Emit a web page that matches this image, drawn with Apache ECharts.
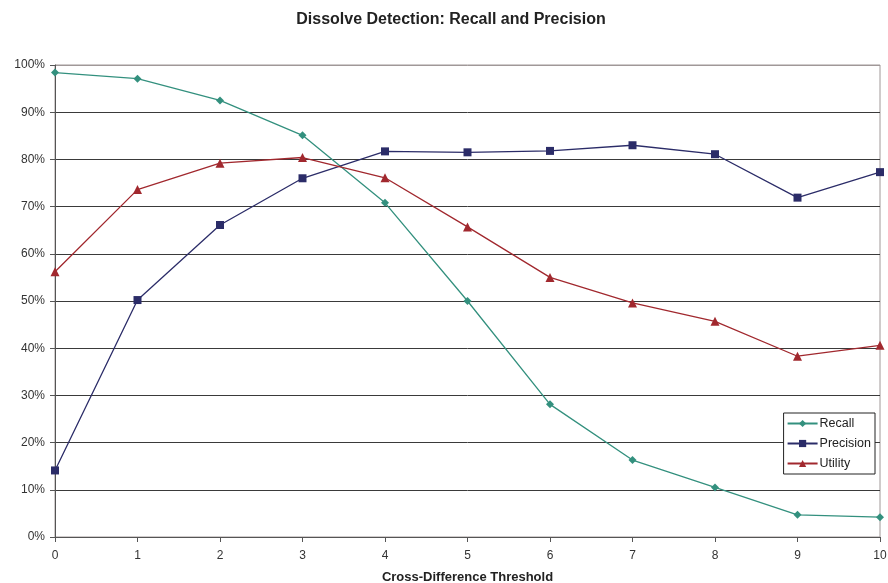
<!DOCTYPE html>
<html>
<head>
<meta charset="utf-8">
<script src="https://cdn.jsdelivr.net/npm/echarts@6/dist/echarts.min.js"></script>
<style>html,body{margin:0;padding:0;background:#fff}#c{width:888px;height:583px}</style>
</head>
<body>
<div id="c"></div>
<script>
const thresholds = [0, 1, 2, 3, 4, 5, 6, 7, 8, 9, 10];
const recall    = [98.4, 97.1, 92.5, 85.1, 70.8, 50.0, 28.1, 16.3, 10.5, 4.7, 4.2];
const precision = [14.1, 50.2, 66.1, 76.0, 81.7, 81.5, 81.8, 83.0, 81.1, 71.9, 77.3];
const utility   = [56.2, 73.6, 79.2, 80.4, 76.1, 65.7, 55.0, 49.6, 45.7, 38.3, 40.6];

const pairs = arr => thresholds.map((t, i) => [t, arr[i]]);
const FONT = 'Liberation Sans, Arial, sans-serif';
const gridColors = ['#3a3a3a','#3a3a3a','#3a3a3a','#3a3a3a','#3a3a3a','#3a3a3a','#3a3a3a','#3a3a3a','#3a3a3a','#3a3a3a','#a09898'];

const chart = echarts.init(document.getElementById('c'), null, {renderer: 'canvas'});
chart.setOption({
  animation: false,
  backgroundColor: '#fff',
  textStyle: {fontFamily: FONT},
  title: {
    text: 'Dissolve Detection: Recall and Precision',
    left: 446, textAlign: 'center', top: 7,
    textStyle: {fontSize: 16, fontWeight: 'bold', color: '#222', fontFamily: FONT}
  },
  grid: {left: 55, right: 8, top: 65, bottom: 46, containLabel: false, outerBoundsMode: 'none',
         show: true, borderColor: '#a09898', borderWidth: 1, backgroundColor: '#fff'},
  legend: {
    orient: 'vertical',
    right: 13, top: 413,
    backgroundColor: '#fff',
    borderColor: '#222', borderWidth: 1,
    padding: [4, 4, 4, 3],
    itemGap: 7,
    itemWidth: 30, itemHeight: 9,
    textStyle: {fontSize: 12.5, color: '#222', fontFamily: FONT, padding: [0,0,0,-3]},
    data: ['Recall', 'Precision', 'Utility']
  },
  xAxis: {
    type: 'value', min: 0, max: 10, interval: 1,
    name: 'Cross-Difference Threshold',
    nameLocation: 'middle', nameGap: 34,
    nameTextStyle: {fontSize: 13, fontWeight: 'bold', color: '#222', fontFamily: FONT},
    axisLine: {lineStyle: {color: '#555', width: 1}},
    axisTick: {show: true, length: 5, lineStyle: {color: '#555'}},
    axisLabel: {fontSize: 12, color: '#333', margin: 13, fontFamily: FONT},
    splitLine: {show: false}
  },
  yAxis: {
    type: 'value', min: 0, max: 100, interval: 10,
    axisLine: {show: true, lineStyle: {color: '#555', width: 1}},
    axisTick: {show: true, length: 5, lineStyle: {color: '#555'}},
    axisLabel: {fontSize: 12, color: '#333', margin: 10, formatter: '{value}%', fontFamily: FONT},
    splitLine: {show: true, lineStyle: {color: gridColors, width: 1}}
  },
  series: [
    {
      name: 'Recall', type: 'line', data: pairs(recall),
      symbol: 'diamond', symbolSize: 8,
      itemStyle: {color: '#33907e'}, lineStyle: {color: '#33907e', width: 1.3}
    },
    {
      name: 'Precision', type: 'line', data: pairs(precision),
      symbol: 'rect', symbolSize: 8,
      itemStyle: {color: '#2b2c68'}, lineStyle: {color: '#2b2c68', width: 1.3}
    },
    {
      name: 'Utility', type: 'line', data: pairs(utility),
      symbol: 'triangle', symbolSize: 9,
      itemStyle: {color: '#a1282e'}, lineStyle: {color: '#a1282e', width: 1.3}
    }
  ]
});
</script>
</body>
</html>
